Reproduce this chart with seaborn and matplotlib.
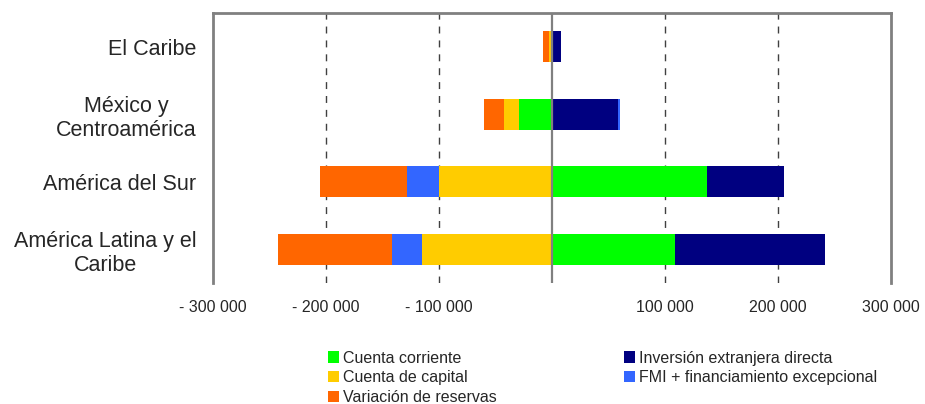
import numpy as np
import pandas as pd
import seaborn as sns
import matplotlib.pyplot as plt
from matplotlib.patches import Patch

categories = ['El Caribe', 'México y\nCentroamérica', 'América del Sur', 'América Latina y el\nCaribe']

# series in stacking order (as in the source spreadsheet)
series_names = ['Cuenta corriente', 'Inversión extranjera directa', 'Cuenta de capital',
                'FMI + financiamiento excepcional', 'Variación de reservas']
series_colors = ['#00FF00', '#000080', '#FFCC00', '#3366FF', '#FF6600']

cuenta_corriente = [-1200, -29000, 137000, 108800]
inversion_directa = [8000, 58000, 68400, 133000]
cuenta_capital = [-1500, -13500, -100000, -115000]
fmi = [0, 2000, -28300, -26500]
variacion_reservas = [-5600, -17400, -77000, -100900]

xticks = [-300000, -200000, -100000, 0, 100000, 200000, 300000]
xtick_labels = ['- 300 000', '- 200 000', '- 100 000', '', '100 000', '200 000', '300 000']

values = np.array([cuenta_corriente, inversion_directa, cuenta_capital, fmi, variacion_reservas], dtype=float)

# cumulative ends, positives and negatives stacked separately
pos_cum = np.cumsum(np.clip(values, 0, None), axis=0)
neg_cum = np.cumsum(np.clip(values, None, 0), axis=0)

sns.set_style('white')
plt.rcParams['font.family'] = ['Liberation Sans', 'DejaVu Sans']

fig = plt.figure(figsize=(9.25, 4.04), dpi=100)
ax = fig.add_axes([0.2303, 0.2995, 0.7329, 0.6683])

# draw from last series to first so earlier segments sit on top
for i in range(len(series_names) - 1, -1, -1):
    for cum in (pos_cum[i], neg_cum[i]):
        df = pd.DataFrame({'region': categories, 'valor': cum})
        sns.barplot(data=df, y='region', x='valor', orient='h', order=categories,
                    color=series_colors[i], saturation=1, width=0.46, ax=ax,
                    edgecolor='none', linewidth=0)

ax.set_xlim(-300000, 300000)
ax.set_ylim(3.5, -0.5)
ax.set_xticks(xticks)
ax.set_xticklabels(xtick_labels, fontsize=11.5)
ax.set_xlabel('')
ax.set_ylabel('')
ax.tick_params(axis='x', length=0, pad=12)
ax.tick_params(axis='y', length=0, pad=12)
for lab in ax.get_yticklabels():
    lab.set_fontsize(15.5)
    lab.set_multialignment('center')

for x in [-200000, -100000, 100000, 200000]:
    ax.axvline(x, color='#404040', lw=1, ls=(0, (5, 5)), zorder=0)
ax.axvline(0, color='#808080', lw=1.6, zorder=5)

for side in ['left', 'top', 'right']:
    ax.spines[side].set_color('#808080')
    ax.spines[side].set_linewidth(2)
ax.spines['bottom'].set_visible(False)

order = [0, 2, 4, 1, 3]
handles = [Patch(facecolor=series_colors[i], edgecolor='none') for i in order]
labels = [series_names[i] for i in order]
fig.legend(handles, labels, ncol=2, loc='upper left', bbox_to_anchor=(0.3455, 0.152),
           frameon=False, fontsize=11.5, handlelength=0.7, handleheight=0.7,
           handletextpad=0.25, labelspacing=0.3, columnspacing=8.0, borderpad=0)

fig.savefig('out.png', dpi=100)
